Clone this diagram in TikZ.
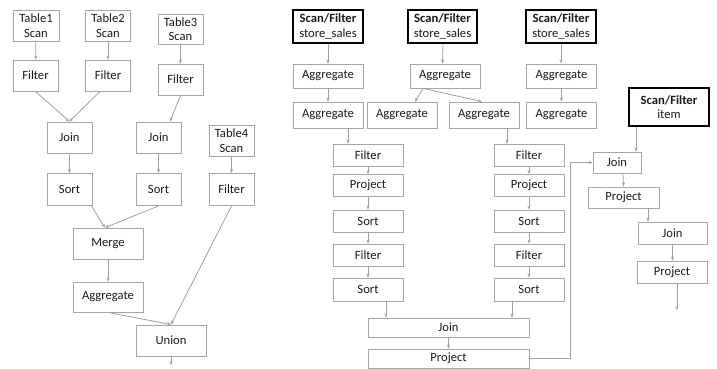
\documentclass[tikz,border=0pt]{standalone}
\usepackage{fontspec}
\setmainfont{Carlito}
\usetikzlibrary{arrows.meta,calc}
\definecolor{boxgray}{HTML}{A6A6A6}
\definecolor{linegray}{HTML}{A0A0A0}
\definecolor{txt}{HTML}{1A1A1A}
\tikzset{
  opbox/.style={draw=boxgray, line width=0.9pt, text=txt, inner sep=0pt, align=center,
    font=\fontsize{12.6}{14.5}\selectfont},
  boldbox/.style={draw=black, line width=1.3pt, text=txt, inner sep=0pt, align=center,
    font=\fontsize{12.6}{14.5}\selectfont},
  flow/.style={draw=linegray, line width=0.8pt, -{Stealth[length=4pt,width=3.2pt]}},
  plain/.style={draw=linegray, line width=0.8pt}
}
\begin{document}
\begin{tikzpicture}[x=1pt,y=-1pt]
\useasboundingbox (0,0) rectangle (717,369);
% ---------- left plan ----------
\node[opbox, minimum width=46, minimum height=31] (t1) at (36,25.5) {Table1\\Scan};
\node[opbox, minimum width=45, minimum height=31] (t2) at (108,25.5) {Table2\\Scan};
\node[opbox, minimum width=45, minimum height=30] (t3) at (180.5,29) {Table3\\Scan};
\node[opbox, minimum width=45, minimum height=31] (f1) at (35.5,75.5) {Filter};
\node[opbox, minimum width=45, minimum height=31] (f2) at (108,75.5) {Filter};
\node[opbox, minimum width=45, minimum height=31] (f3) at (180.5,79.5) {Filter};
\node[opbox, minimum width=45, minimum height=31] (j1) at (69.5,137.5) {Join};
\node[opbox, minimum width=45, minimum height=31] (j2) at (158.5,137.5) {Join};
\node[opbox, minimum width=45, minimum height=31] (t4) at (231.5,140.5) {Table4\\Scan};
\node[opbox, minimum width=45, minimum height=32] (s1) at (69.5,189.5) {Sort};
\node[opbox, minimum width=45, minimum height=32] (s2) at (158.5,189.5) {Sort};
\node[opbox, minimum width=45, minimum height=32] (f4) at (231.5,189.5) {Filter};
\node[opbox, minimum width=70, minimum height=31] (mg) at (108,243.5) {Merge};
\node[opbox, minimum width=70, minimum height=30] (ag) at (108,297) {Aggregate};
\node[opbox, minimum width=70, minimum height=31] (un) at (171,340.5) {Union};
\coordinate (unout) at (171,365);

\draw[flow] (t1) -- (f1);
\draw[flow] (t2) -- (f2);
\draw[flow] (t3) -- (f3);
\draw[flow] (t4) -- (f4);
\draw[flow] (f1.south) -- (j1.north);
\draw[flow] ([xshift=-8pt]f2.south) -- (j1.north);
\draw[flow] (f3.south) -- ([xshift=11.5pt]j2.north);
\draw[flow] (j1) -- (s1);
\draw[flow] (j2) -- (s2);
\draw[flow] ([xshift=-1pt]s1.south east) -- ([xshift=-3pt]mg.north);
\draw[flow] (s2.south) -- ([xshift=-3pt]mg.north);
\draw[flow] (mg) -- (ag);
\draw[flow] (ag.south) -- (un.north);
\draw[flow] (f4.south) -- (un.north);
\draw[flow] (un.south) -- (unout);

% ---------- right plan ----------
\node[boldbox, minimum width=70, minimum height=33] (sf1) at (328,26.5) {\textbf{Scan/Filter}\\store\_sales};
\node[boldbox, minimum width=69, minimum height=33] (sf2) at (442.5,26.5) {\textbf{Scan/Filter}\\store\_sales};
\node[boldbox, minimum width=70, minimum height=33] (sf3) at (561,26.5) {\textbf{Scan/Filter}\\store\_sales};
\node[opbox, minimum width=70, minimum height=24] (a1a) at (328,76) {Aggregate};
\node[opbox, minimum width=70, minimum height=24] (a2a) at (445,76) {Aggregate};
\node[opbox, minimum width=70, minimum height=24] (a3a) at (561.5,76) {Aggregate};
\node[opbox, minimum width=70, minimum height=26] (a1b) at (328,115) {Aggregate};
\node[opbox, minimum width=70, minimum height=26] (a2b) at (402,115) {Aggregate};
\node[opbox, minimum width=70, minimum height=26] (a2c) at (484,115) {Aggregate};
\node[opbox, minimum width=70, minimum height=26] (a3b) at (561.5,115) {Aggregate};

\node[opbox, minimum width=70, minimum height=22] (fl1) at (368,155) {Filter};
\node[opbox, minimum width=70, minimum height=22] (pl) at (368,185.5) {Project};
\node[opbox, minimum width=70, minimum height=22] (sl1) at (368,221) {Sort};
\node[opbox, minimum width=70, minimum height=22] (fl2) at (368,255) {Filter};
\node[opbox, minimum width=70, minimum height=23] (sl2) at (368,289.5) {Sort};

\node[opbox, minimum width=70, minimum height=22] (fr1) at (529,155) {Filter};
\node[opbox, minimum width=70, minimum height=22] (pr) at (529,185.5) {Project};
\node[opbox, minimum width=70, minimum height=22] (sr1) at (529,221) {Sort};
\node[opbox, minimum width=70, minimum height=22] (fr2) at (529,255) {Filter};
\node[opbox, minimum width=70, minimum height=23] (sr2) at (529,289.5) {Sort};

\node[opbox, minimum width=161, minimum height=19] (jn) at (448.5,327.5) {Join};
\node[opbox, minimum width=161, minimum height=19] (pj) at (448.5,358.5) {Project};

\node[boldbox, minimum width=80, minimum height=38] (sfi) at (669,107) {\textbf{Scan/Filter}\\item};
\node[opbox, minimum width=48, minimum height=21] (ji) at (617,162.5) {Join};
\node[opbox, minimum width=71, minimum height=21] (pi) at (623.5,197.5) {Project};
\node[opbox, minimum width=69, minimum height=22] (ji2) at (672.5,233) {Join};
\node[opbox, minimum width=70, minimum height=22] (pi2) at (672,272) {Project};
\coordinate (piout) at (677,310);
\coordinate (bendlow) at (570,358.5);
\coordinate (bendhigh) at (570,162.5);

\draw[flow] (sf1) -- (a1a);
\draw[flow] ([xshift=0.5pt]sf2.south) -- (sf2.south |- a2a.north);
\draw[flow] (sf3) -- (sf3.south |- a3a.north);
\draw[flow] (a1a) -- (a1b);
\draw[flow] ([xshift=20pt]a1b.south) -- ([xshift=-20pt]fl1.north);
\draw[flow] ([xshift=-22pt]a2a.south) -- ([xshift=13pt]a2b.north);
\draw[flow] ([xshift=-22pt]a2a.south) -- ([xshift=-2pt]a2c.north);
\draw[flow] ([xshift=23pt]a2c.south) -- ([xshift=-22pt]fr1.north);
\draw[flow] (a3a) -- (a3b);

\draw[flow] (fl1) -- (pl);
\draw[flow] (pl) -- (sl1);
\draw[flow] (sl1) -- (fl2);
\draw[flow] (fl2) -- (sl2);
\draw[flow] (fr1) -- (pr);
\draw[flow] (pr) -- (sr1);
\draw[flow] (sr1) -- (fr2);
\draw[flow] (fr2) -- (sr2);
\draw[flow] ([xshift=18pt]sl2.south) -- ([xshift=18pt]sl2.south |- jn.north);
\draw[flow] ([xshift=-17pt]sr2.south) -- ([xshift=-17pt]sr2.south |- jn.north);
\draw[flow] (jn) -- (pj);
\draw[flow] (pj.east) -- (bendlow) -- (bendhigh) -- (ji.west);

\draw[flow] ([xshift=-33pt]sfi.south) -- ([xshift=-33pt]sfi.south |- ji.north);
\draw[flow] ([xshift=6pt]ji.south) -- (pi.north);
\draw[flow] ([xshift=24.5pt]pi.south) -- ([xshift=24.5pt]pi.south |- ji2.north);
\draw[flow] (ji2) -- (ji2.south |- pi2.north);
\draw[flow] ([xshift=5pt]pi2.south) -- (piout);
\end{tikzpicture}
\end{document}
